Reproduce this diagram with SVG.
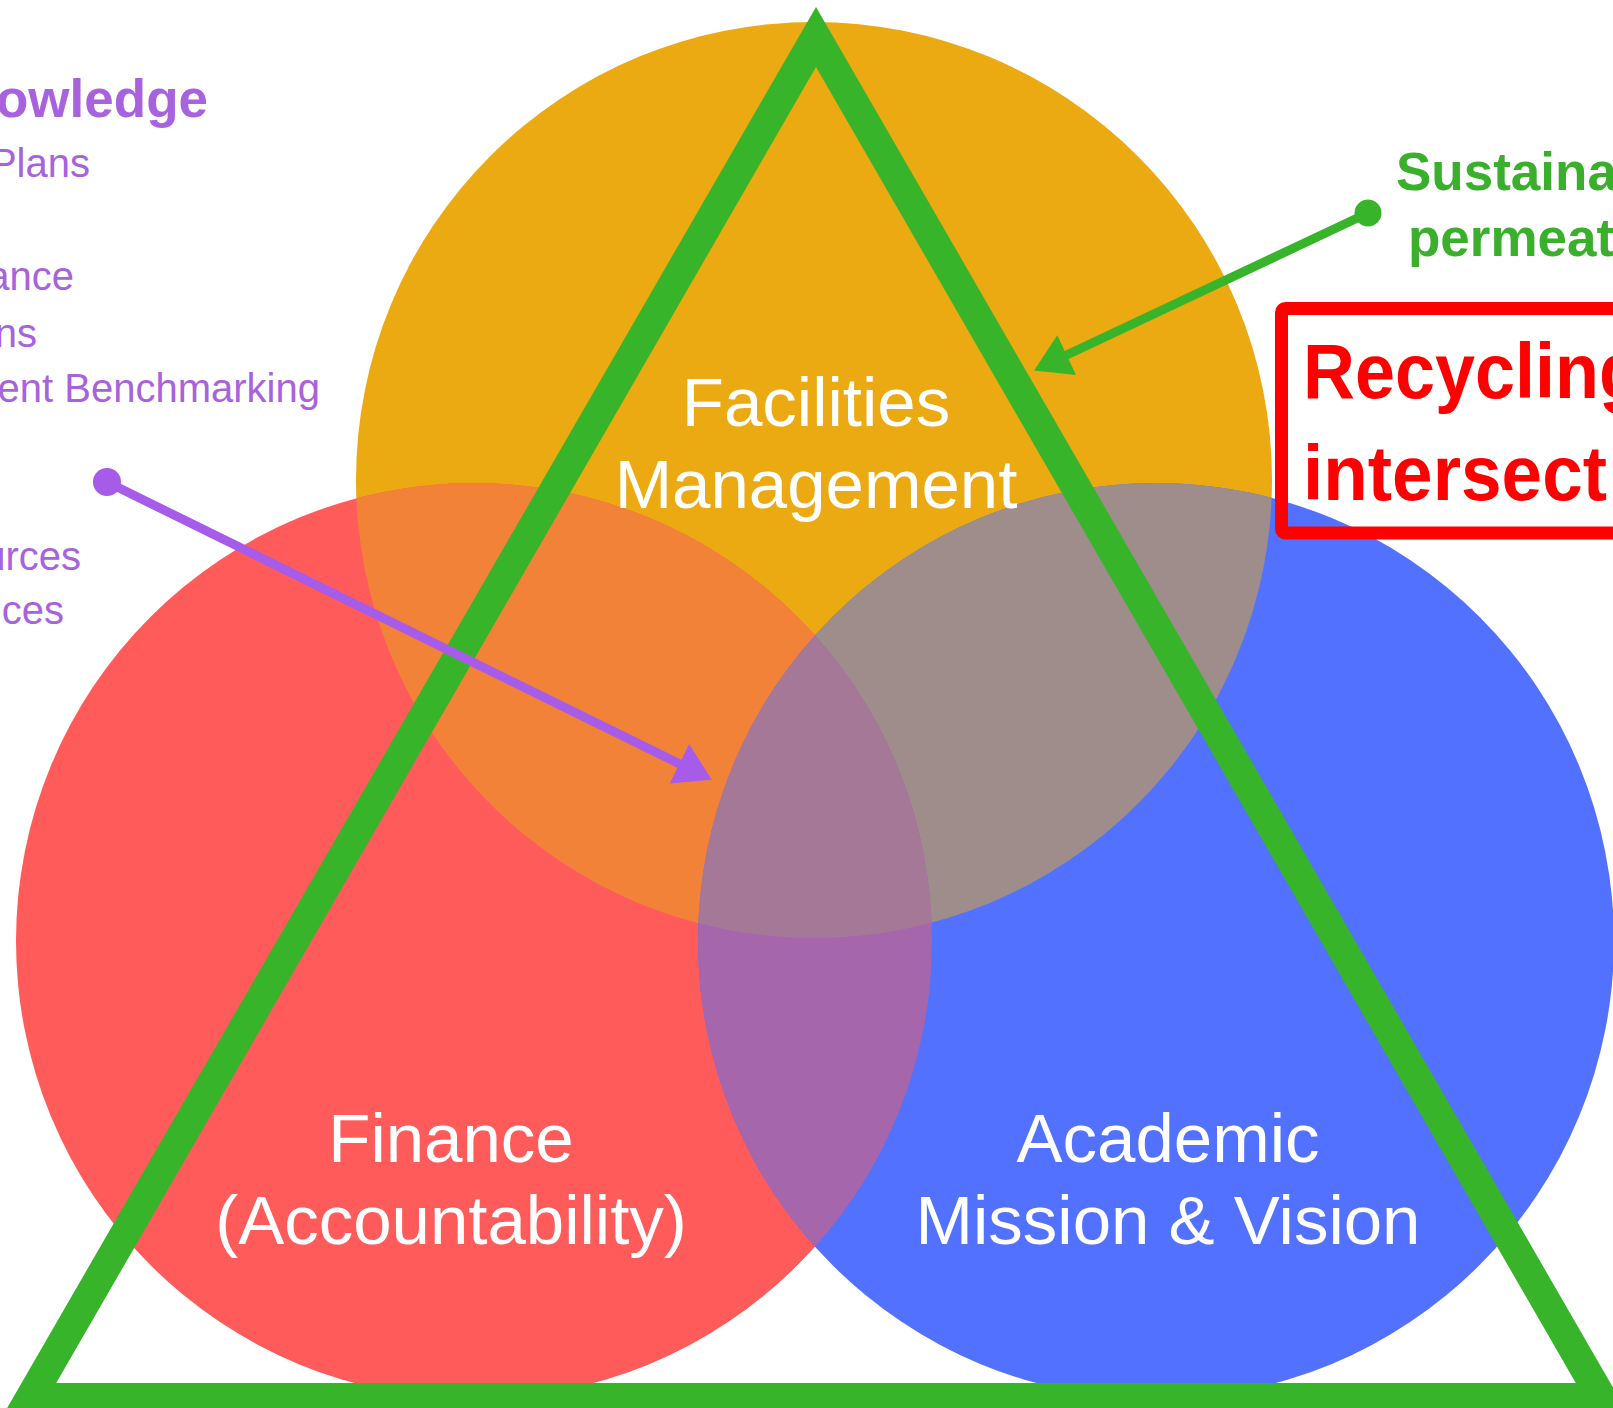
<svg xmlns="http://www.w3.org/2000/svg" width="1613" height="1408" viewBox="0 0 1613 1408">
<style>
.lbl{font-family:"Liberation Sans",Arial,sans-serif;font-size:69px;fill:#FFFFFF;text-anchor:middle}
.pt{font-family:"Liberation Sans",Arial,sans-serif;font-size:40px;fill:#A862DE;text-anchor:end}
.pb{font-family:"Liberation Sans",Arial,sans-serif;font-size:53px;font-weight:bold;fill:#A862DE;text-anchor:end}
.gt{font-family:"Liberation Sans",Arial,sans-serif;font-size:53px;font-weight:bold;fill:#3AAF2C}
.rt{font-family:"Liberation Sans",Arial,sans-serif;font-size:78px;font-weight:bold;fill:#FF0000}
</style>
<defs>
<clipPath id="cO"><circle cx="814" cy="480" r="458"/></clipPath>
<clipPath id="cR"><circle cx="474" cy="941" r="458"/></clipPath>
<marker id="ahG" markerUnits="userSpaceOnUse" markerWidth="40" markerHeight="48" viewBox="0 -24 38 48" refX="14" refY="0" orient="auto"><path d="M0,-22 L36,0 L0,22 Z" fill="#38B42A"/></marker>
<marker id="ahP" markerUnits="userSpaceOnUse" markerWidth="40" markerHeight="48" viewBox="0 -24 38 48" refX="14" refY="0" orient="auto"><path d="M0,-22 L36,0 L0,22 Z" fill="#A65CE8"/></marker>
</defs>
<rect width="1613" height="1408" fill="#FFFFFF"/>

<g id="circles">
<circle id="facilities-circle" cx="814" cy="480" r="458" fill="#EBA912"/>
<circle id="finance-circle" cx="474" cy="941" r="458" fill="#FF5B5B"/>
<circle id="academic-circle" cx="1156" cy="941" r="458" fill="#5271FF"/>
<circle cx="474" cy="941" r="458" fill="#F28237" clip-path="url(#cO)"/>
<circle cx="1156" cy="941" r="458" fill="#9E8D8A" clip-path="url(#cO)"/>
<circle cx="1156" cy="941" r="458" fill="#A566AB" clip-path="url(#cR)"/>
<g clip-path="url(#cO)"><circle cx="1156" cy="941" r="458" fill="#A57898" clip-path="url(#cR)"/></g>
</g>

<g id="triangle">
<polygon points="816,37 30.23,1398 1601.77,1398" fill="none" stroke="#38B42A" stroke-width="30" stroke-linejoin="miter"/>
</g>

<g id="facilities">
<text class="lbl" x="816" y="426">Facilities</text>
<text class="lbl" x="816" y="508">Management</text>
</g>
<g id="finance">
<text class="lbl" x="451" y="1162">Finance</text>
<text class="lbl" x="451" y="1244">(Accountability)</text>
</g>
<g id="academic">
<text class="lbl" x="1168" y="1162">Academic</text>
<text class="lbl" x="1168" y="1244">Mission &amp; Vision</text>
</g>

<g id="knowledge-list">
<text class="pb" x="208" y="117">owledge</text>
<text class="pt" x="90" y="177">Plans</text>
<text class="pt" x="74" y="290">ance</text>
<text class="pt" x="37" y="347">ns</text>
<text class="pt" x="320" y="402">ent Benchmarking</text>
<text class="pt" x="81" y="570">urces</text>
<text class="pt" x="64" y="624">ces</text>
</g>

<g id="sustainability-note">
<text class="gt" x="1396" y="190">Sustaina</text>
<text class="gt" x="1408" y="256">permeat</text>
</g>

<g id="recycling-box">
<rect x="1281.5" y="308.5" width="400" height="224.5" rx="4" fill="none" stroke="#FF0000" stroke-width="13"/>
<text class="rt" x="1303" y="398" textLength="340" lengthAdjust="spacingAndGlyphs">Recycling</text>
<text class="rt" x="1303" y="500" textLength="304" lengthAdjust="spacingAndGlyphs">intersect</text>
</g>

<g id="connectors">
<line x1="1368" y1="213" x2="1054" y2="361" stroke="#38B42A" stroke-width="9" marker-end="url(#ahG)"/>
<circle cx="1368" cy="213" r="13.5" fill="#38B42A"/>
<line x1="107" y1="482" x2="692" y2="770" stroke="#A65CE8" stroke-width="9" marker-end="url(#ahP)"/>
<circle cx="107" cy="482" r="14" fill="#A65CE8"/>
</g>
</svg>
